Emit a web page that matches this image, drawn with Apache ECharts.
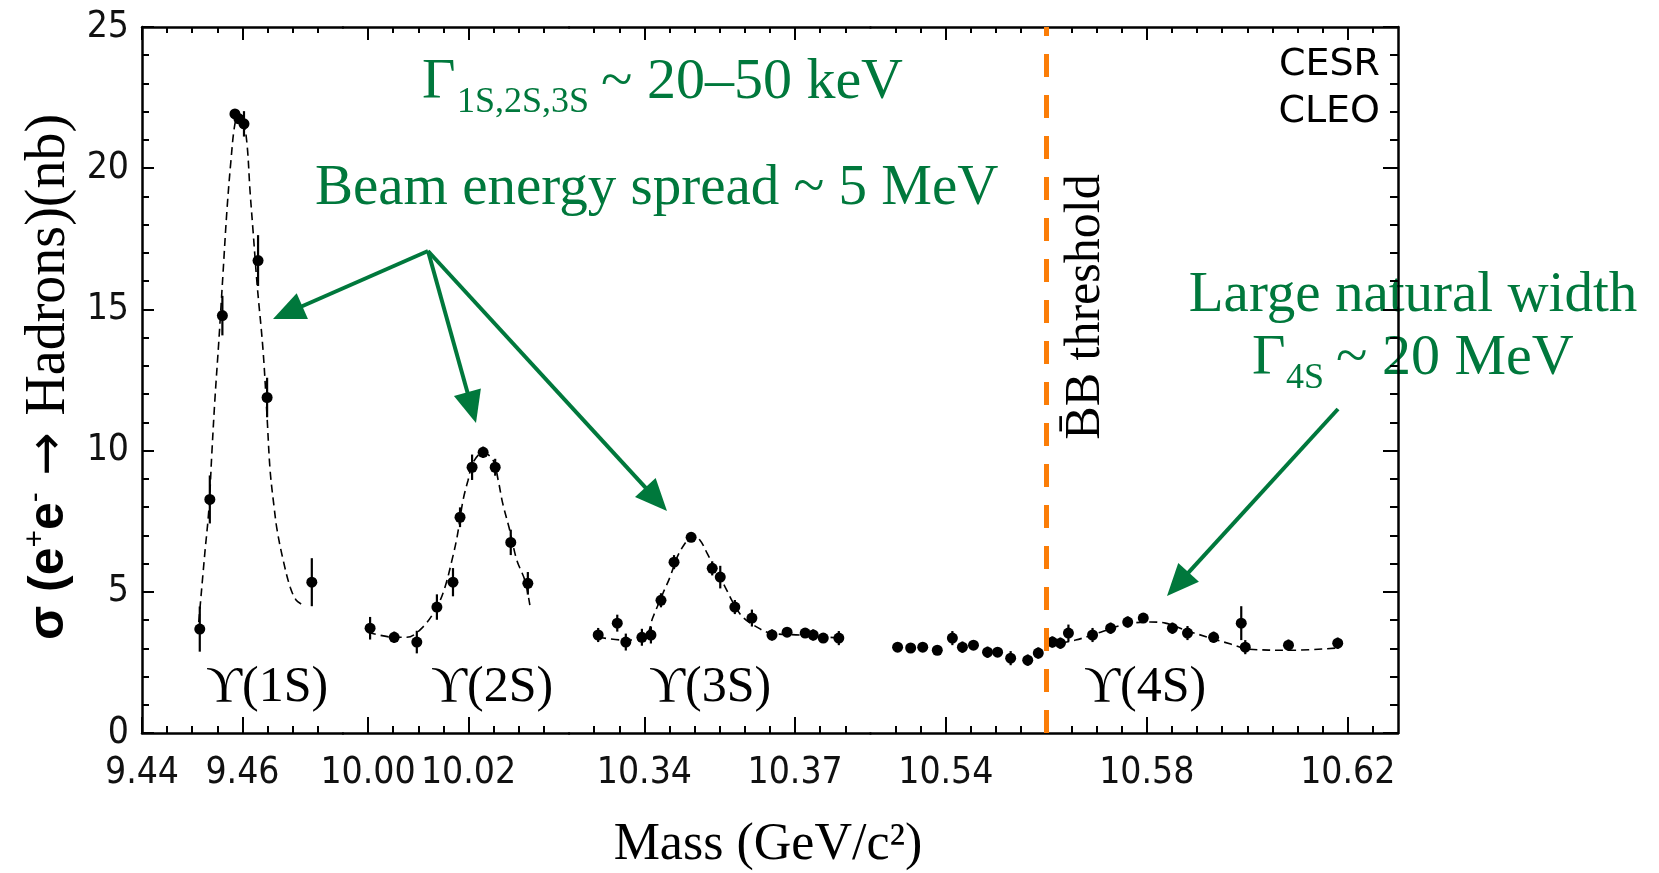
<!DOCTYPE html>
<html>
<head>
<meta charset="utf-8">
<title>Upsilon resonances - CESR / CLEO</title>
<script src="https://cdn.jsdelivr.net/npm/echarts@6/dist/echarts.min.js"></script>
<style>
  html, body { margin: 0; padding: 0; background: #fff; }
  #chart { width: 1659px; height: 873px; }
</style>
</head>
<body>
<div id="chart"></div>
<script>
// ---- data (mass in GeV/c^2, cross section in nb) ----
// Y(1S)
const mass1S  = [9.4515, 9.4535, 9.4560, 9.4585, 9.4593, 9.4603, 9.4631, 9.4649, 9.4738];
const sigma1S = [3.68, 8.27, 14.78, 21.92, 21.75, 21.57, 16.73, 11.88, 5.34];
const err1S   = [0.80, 0.85, 0.70, 0.15, 0.15, 0.45, 0.90, 0.70, 0.85];
const fitMass1S  = [9.4513, 9.4525, 9.4533, 9.4539, 9.4545, 9.4553, 9.4561, 9.4569, 9.4577, 9.4585, 9.4593, 9.4601,
                    9.4609, 9.4615, 9.4621, 9.4629, 9.4641, 9.4649, 9.4655, 9.4663, 9.4669, 9.4681, 9.4695, 9.4707, 9.4718];
const fitSigma1S = [3.93, 6.36, 7.89, 9.90, 11.78, 13.90, 16.20, 18.49, 20.26, 21.57, 21.92, 21.75,
                    20.86, 19.20, 17.79, 15.91, 13.54, 11.17, 9.30, 7.99, 7.18, 6.12, 5.16, 4.70, 4.56];

// Y(2S)
const mass2S  = [10.0004, 10.0052, 10.0097, 10.0137, 10.0169, 10.0183, 10.0207, 10.0229, 10.0253, 10.0284, 10.0318];
const sigma2S = [3.71, 3.39, 3.22, 4.46, 5.34, 7.64, 9.41, 9.94, 9.41, 6.75, 5.30];
const err2S   = [0.40, 0.20, 0.40, 0.45, 0.50, 0.35, 0.45, 0.20, 0.30, 0.45, 0.40];
const fitMass2S  = [10.0000, 10.0052, 10.0077, 10.0109, 10.0137, 10.0153, 10.0167, 10.0177, 10.0189, 10.0199,
                    10.0209, 10.0229, 10.0249, 10.0259, 10.0268, 10.0282, 10.0296, 10.0312, 10.0322];
const fitSigma2S = [3.57, 3.39, 3.39, 3.75, 4.46, 5.16, 6.12, 6.93, 8.24, 8.95,
                    9.58, 9.94, 9.65, 8.95, 8.13, 7.18, 6.12, 5.41, 4.53];

// Y(3S)
const mass3S  = [10.3308, 10.3346, 10.3363, 10.3395, 10.3413, 10.3433, 10.3459, 10.3493, 10.3535,
                 10.3551, 10.3580, 10.3614, 10.3654, 10.3684, 10.3720, 10.3736, 10.3756, 10.3787];
const sigma3S = [3.47, 3.89, 3.22, 3.39, 3.47, 4.70, 6.05, 6.93, 5.83,
                 5.52, 4.46, 4.07, 3.47, 3.57, 3.54, 3.47, 3.36, 3.36];
const err3S   = [0.25, 0.30, 0.30, 0.30, 0.30, 0.25, 0.25, 0.15, 0.25,
                 0.40, 0.25, 0.30, 0.20, 0.15, 0.15, 0.20, 0.15, 0.25];
const fitMass3S  = [10.3308, 10.3361, 10.3401, 10.3417, 10.3437, 10.3451, 10.3465, 10.3481, 10.3495, 10.3511,
                    10.3525, 10.3545, 10.3561, 10.3577, 10.3596, 10.3624, 10.3650, 10.3710, 10.3789];
const fitSigma3S = [3.39, 3.29, 3.39, 4.10, 4.95, 5.52, 6.22, 6.72, 7.00, 6.82,
                    6.36, 5.69, 5.16, 4.60, 4.10, 3.75, 3.54, 3.47, 3.36];

// Y(4S) region
const mass4S  = [10.5304, 10.5330, 10.5354, 10.5383, 10.5413, 10.5433, 10.5455, 10.5483, 10.5503, 10.5529,
                 10.5563, 10.5584, 10.5612, 10.5628, 10.5644, 10.5692, 10.5728, 10.5762, 10.5793, 10.5851,
                 10.5881, 10.5933, 10.5988, 10.5996, 10.6082, 10.6180];
const sigma4S = [3.04, 3.01, 3.04, 2.93, 3.36, 3.04, 3.11, 2.86, 2.86, 2.65,
                 2.58, 2.83, 3.22, 3.18, 3.54, 3.47, 3.71, 3.93, 4.07, 3.71,
                 3.54, 3.39, 3.89, 3.04, 3.11, 3.18];
const err4S   = [0.15, 0.15, 0.15, 0.15, 0.25, 0.20, 0.15, 0.20, 0.15, 0.25,
                 0.20, 0.20, 0.20, 0.20, 0.30, 0.25, 0.20, 0.20, 0.15, 0.20,
                 0.25, 0.20, 0.60, 0.25, 0.20, 0.20];
const fitMass4S  = [10.5604, 10.5658, 10.5708, 10.5758, 10.5807, 10.5837, 10.5877, 10.5927, 10.5967, 10.6002, 10.6086, 10.6180];
const fitSigma4S = [3.11, 3.29, 3.57, 3.85, 3.93, 3.89, 3.64, 3.36, 3.15, 2.97, 2.93, 3.01];

const bbThreshold = 10.56;

// axis pieces (broken mass axis) and their labelled ticks
const axisRanges = [[9.44, 9.48], [9.995, 10.04], [10.325, 10.385], [10.525, 10.63]];
const tickLabels = [[9.44, 9.46], [10.00, 10.02], [10.34, 10.37], [10.54, 10.58, 10.62]];
const resonanceNames = ['ϒ(1S)', 'ϒ(2S)', 'ϒ(3S)', 'ϒ(4S)'];

// ---- layout ----
const PLOT_LEFT = 142, PLOT_TOP = 27, PLOT_H = 706;
const PX_PER_GEV = 5024;
const MINOR_STEP = 0.005;
const GREEN = '#00783c';
const SERIF = "'Liberation Serif', 'Times New Roman', serif";
const NARROW = "'Liberation Sans Narrow', 'DejaVu Sans Condensed', 'Liberation Sans', sans-serif";

const pieces = [
  { mass: mass1S, sigma: sigma1S, err: err1S, fitM: fitMass1S, fitS: fitSigma1S },
  { mass: mass2S, sigma: sigma2S, err: err2S, fitM: fitMass2S, fitS: fitSigma2S },
  { mass: mass3S, sigma: sigma3S, err: err3S, fitM: fitMass3S, fitS: fitSigma3S },
  { mass: mass4S, sigma: sigma4S, err: err4S, fitM: fitMass4S, fitS: fitSigma4S }
];

const chart = echarts.init(document.getElementById('chart'));

const grids = [], xAxes = [], yAxes = [], series = [];
let left = PLOT_LEFT;

const labelStyle = {
  margin: 22,
  formatter: v => v.toFixed(2),
  color: '#111', fontSize: 37, fontFamily: NARROW
};

axisRanges.forEach(([min, max], i) => {
  const width = (max - min) * PX_PER_GEV;
  grids.push({ left: left, top: PLOT_TOP, width: width, height: PLOT_H, outerBoundsMode: 'none' });
  left += width;

  const minors = [];
  for (let v = min + MINOR_STEP; v < max - MINOR_STEP / 2; v += MINOR_STEP) {
    minors.push(Math.round(v * 1000) / 1000);
  }
  // labels split over two axes so that neighbouring labels never get auto-hidden
  const labelsA = tickLabels[i].filter((_, k) => k % 2 === 0);
  const labelsB = tickLabels[i].filter((_, k) => k % 2 === 1);

  const base = { type: 'value', gridIndex: i, min: min, max: max, splitLine: { show: false } };
  const line = { show: true, onZero: false, lineStyle: { color: '#000', width: 2.5 } };

  // bottom: line, minor ticks, half of the labels
  xAxes.push(Object.assign({}, base, {
    position: 'bottom',
    axisLine: line,
    axisTick: { show: true, inside: true, length: 7, customValues: minors, lineStyle: { color: '#000', width: 2 } },
    axisLabel: Object.assign({ show: true, customValues: labelsA }, labelStyle)
  }));
  // bottom: major ticks, other labels
  xAxes.push(Object.assign({}, base, {
    position: 'bottom',
    axisLine: { show: false },
    axisTick: { show: true, inside: true, length: 16, customValues: tickLabels[i], lineStyle: { color: '#000', width: 2 } },
    axisLabel: Object.assign({ show: labelsB.length > 0, customValues: labelsB }, labelStyle)
  }));
  // top: line and minor ticks
  xAxes.push(Object.assign({}, base, {
    position: 'top',
    axisLine: line,
    axisTick: { show: true, inside: true, length: 6, customValues: minors, lineStyle: { color: '#000', width: 2 } },
    axisLabel: { show: false }
  }));
  // top: major ticks
  xAxes.push(Object.assign({}, base, {
    position: 'top',
    axisLine: { show: false },
    axisTick: { show: true, inside: true, length: 13, customValues: tickLabels[i], lineStyle: { color: '#000', width: 2 } },
    axisLabel: { show: false }
  }));

  const yBase = {
    type: 'value', gridIndex: i, min: 0, max: 25, interval: 5,
    splitLine: { show: false }
  };
  if (i === 0) {
    yAxes.push(Object.assign(yBase, {
      position: 'left',
      axisLine: { show: true, onZero: false, lineStyle: { color: '#000', width: 2.5 } },
      axisTick: { show: true, inside: true, length: 12, lineStyle: { color: '#000', width: 2 } },
      minorTick: { show: true, splitNumber: 5, length: 7, lineStyle: { color: '#000', width: 2 } },
      axisLabel: { show: true, margin: 13, color: '#111', fontSize: 37, fontFamily: NARROW }
    }));
  } else if (i === axisRanges.length - 1) {
    yAxes.push(Object.assign(yBase, {
      position: 'right',
      axisLine: { show: true, onZero: false, lineStyle: { color: '#000', width: 2.5 } },
      axisTick: { show: true, inside: true, length: 15, lineStyle: { color: '#000', width: 2 } },
      minorTick: { show: true, splitNumber: 5, length: 8, lineStyle: { color: '#000', width: 2 } },
      axisLabel: { show: false }
    }));
  } else {
    yAxes.push(Object.assign(yBase, { show: false }));
  }

  const p = pieces[i];
  const fitSeries = {
    type: 'line',
    xAxisIndex: i * 4,
    yAxisIndex: i,
    data: p.fitM.map((m, k) => [m, p.fitS[k]]),
    showSymbol: false,
    smooth: 0.35,
    silent: true,
    lineStyle: { color: '#000', width: 1.6, type: [8, 5] },
    z: 2
  };
  if (i === axisRanges.length - 1) {
    fitSeries.markLine = {
      silent: true,
      symbol: ['none', 'none'],
      label: { show: false },
      lineStyle: { color: '#fb7d07', width: 5, type: [23, 18] },
      data: [{ xAxis: bbThreshold }],
      z: 5
    };
  }
  series.push(fitSeries);

  series.push({
    type: 'custom',
    xAxisIndex: i * 4,
    yAxisIndex: i,
    data: p.mass.map((m, k) => [m, p.sigma[k], p.err[k]]),
    encode: { x: 0, y: 1 },
    z: 3,
    renderItem: (params, api) => {
      const m = api.value(0), s = api.value(1), e = api.value(2);
      const c = api.coord([m, s]);
      const lo = api.coord([m, s - e]);
      const hi = api.coord([m, s + e]);
      return {
        type: 'group',
        children: [
          { type: 'line', shape: { x1: c[0], y1: lo[1], x2: c[0], y2: hi[1] }, style: { stroke: '#000', lineWidth: 2.2 } },
          { type: 'circle', shape: { cx: c[0], cy: c[1], r: 5.5 }, style: { fill: '#000' } }
        ]
      };
    }
  });
});

// arrow from (x1,y1) to tip (x2,y2)
function arrow(x1, y1, x2, y2) {
  const len = Math.hypot(x2 - x1, y2 - y1);
  const dx = (x2 - x1) / len, dy = (y2 - y1) / len;
  const L = 32, W = 14;
  const bx = x2 - dx * L, by = y2 - dy * L;
  return {
    type: 'group',
    children: [
      { type: 'line', shape: { x1: x1, y1: y1, x2: bx + dx * 4, y2: by + dy * 4 }, style: { stroke: GREEN, lineWidth: 4 } },
      { type: 'polygon', shape: { points: [[x2, y2], [bx - dy * W, by + dx * W], [bx + dy * W, by - dx * W]] }, style: { fill: GREEN } }
    ]
  };
}

function txt(x, y, text, font, opts) {
  return {
    type: 'text', x: x, y: y, silent: true,
    rotation: (opts && opts.rotation) || 0,
    style: Object.assign({
      text: text, font: font, fill: '#000',
      align: 'left', verticalAlign: 'middle'
    }, opts && opts.style)
  };
}

const labelX = [267, 492, 710, 1145];

const graphics = [
  // width annotations
  txt(422, 83, 'Γ', '58px ' + SERIF, { style: { fill: GREEN } }),
  txt(457, 103, '1S,2S,3S', '36px ' + SERIF, { style: { fill: GREEN } }),
  txt(601, 83, '~ 20–50 keV', '58px ' + SERIF, { style: { fill: GREEN } }),
  txt(315, 189, 'Beam energy spread ~ 5 MeV', '57px ' + SERIF, { style: { fill: GREEN } }),
  txt(1413, 296, 'Large natural width', '57px ' + SERIF, { style: { fill: GREEN, align: 'center' } }),
  txt(1252, 359, 'Γ', '58px ' + SERIF, { style: { fill: GREEN } }),
  txt(1286, 379, '4S', '36px ' + SERIF, { style: { fill: GREEN } }),
  txt(1336, 359, '~ 20 MeV', '58px ' + SERIF, { style: { fill: GREEN } }),
  arrow(428, 251, 273, 319),
  arrow(428, 251, 476, 423),
  arrow(428, 251, 667, 511),
  arrow(1338, 409, 1167, 596),
  // experiment tag
  txt(1380, 65, 'CESR', '38px "DejaVu Sans", sans-serif', { style: { align: 'right' } }),
  txt(1380, 112, 'CLEO', '38px "DejaVu Sans", sans-serif', { style: { align: 'right' } }),
  // threshold label
  txt(1086, 307, 'B\u0304B threshold', '50px ' + SERIF, { rotation: Math.PI / 2, style: { align: 'center' } }),
  // axis titles
  txt(768, 845, 'Mass (GeV/c²)', '52px ' + SERIF, { style: { align: 'center' } }),
  {
    type: 'text', x: 49, y: 377, rotation: Math.PI / 2, silent: true,
    style: {
      text: '{a|σ (e}{b|+}{a|e}{b|-}{d| → }{c|Hadrons)(nb)}',
      align: 'center', verticalAlign: 'middle',
      rich: {
        a: { fontFamily: "'Liberation Sans', sans-serif", fontSize: 50, fontWeight: 'bold', color: '#000' },
        b: { fontFamily: "'Liberation Sans', sans-serif", fontSize: 30, verticalAlign: 'top', color: '#000' },
        d: { fontFamily: "'DejaVu Sans', sans-serif", fontSize: 52, color: '#000' },
        c: { fontFamily: SERIF, fontSize: 56, color: '#000' }
      }
    }
  }
].concat(resonanceNames.map((name, i) =>
  txt(labelX[i], 688, name, '50px ' + SERIF, { style: { align: 'center' } })
));

chart.setOption({
  animation: false,
  backgroundColor: '#fff',
  grid: grids,
  xAxis: xAxes,
  yAxis: yAxes,
  series: series,
  graphic: { elements: graphics }
});

window.addEventListener('resize', () => chart.resize());
</script>
</body>
</html>
